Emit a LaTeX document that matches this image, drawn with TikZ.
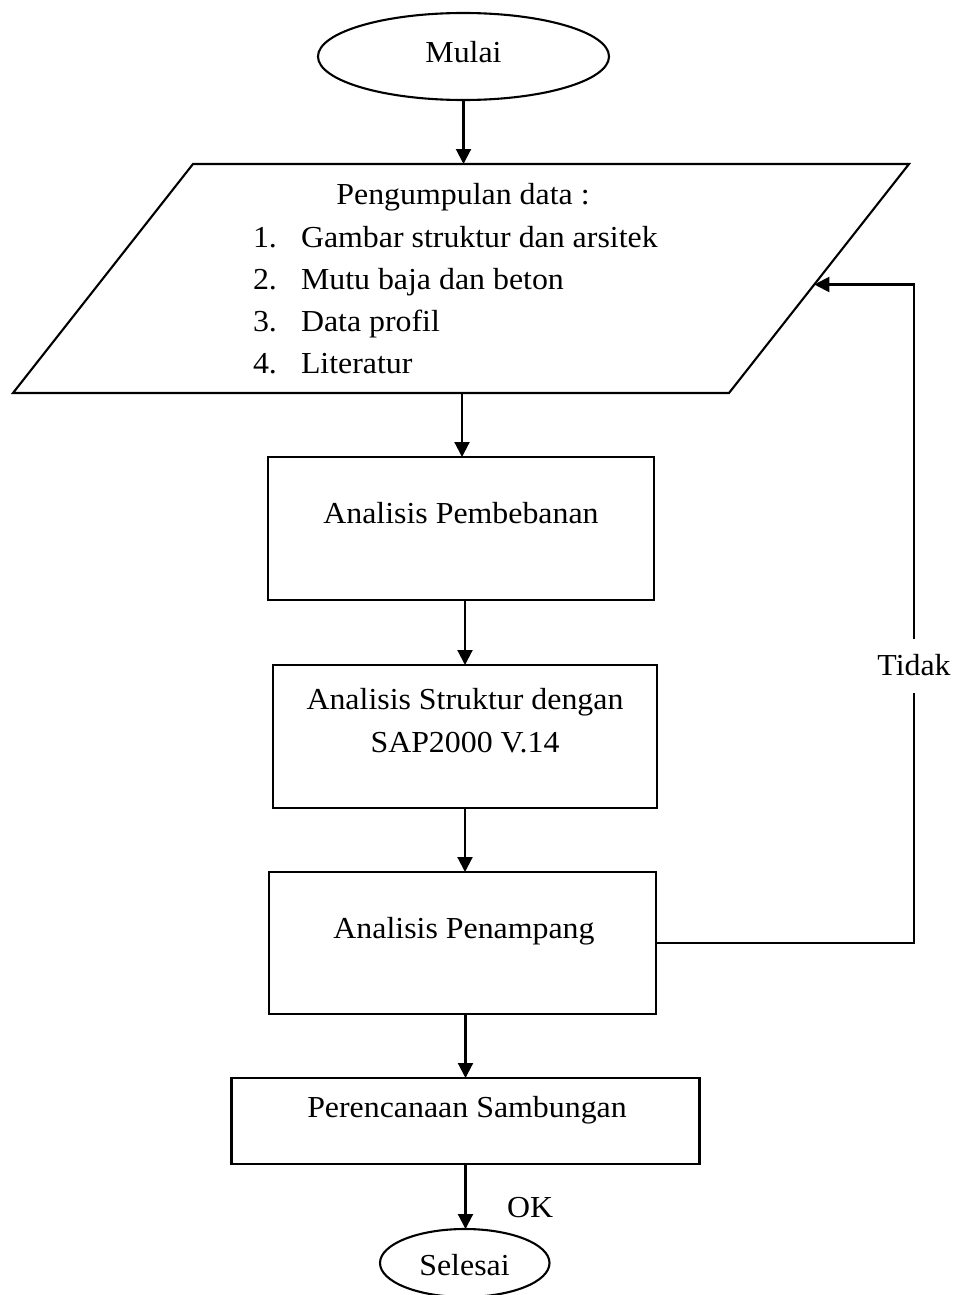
\documentclass[tikz,border=0pt]{standalone}
\usepackage{fontspec}
\setmainfont{Liberation Serif}[FakeStretch=1.045]
\usetikzlibrary{arrows.meta,shapes.geometric,calc}
\begin{document}
\begin{tikzpicture}[x=1pt,y=-1pt,
  every node/.style={font=\fontsize{30.5}{36.6}\selectfont, inner sep=0pt, outer sep=0pt},
  ln/.style={line width=2.1pt},
  arr/.style={line width=2.1pt, -{Triangle[length=15pt,width=15pt]}},
  boxnode/.style={rectangle, draw, line width=2.1pt},
  termnode/.style={ellipse, draw, line width=2.1pt},
  txt/.style={anchor=base},
  itm/.style={anchor=base west}
]
\useasboundingbox (0,0) rectangle (958,1295);

% start
\node[termnode, minimum width=291, minimum height=87] (start) at (463.5,56.5) {};
\node[txt] (startt) at (463.5,62.3) {Mulai};

% data parallelogram
\coordinate (pTL) at (193,164);
\coordinate (pTR) at (909,164);
\coordinate (pBR) at (729,393);
\coordinate (pBL) at (13,393);
\draw[ln] (pTL) -- (pTR) -- (pBR) -- (pBL) -- cycle;
\node[minimum width=716, minimum height=229] (data) at (462,278.5) {};
\coordinate (fb) at ($(pTR)!0.5262!(pBR)$);
\node[txt] (datat) at (463,204) {Pengumpulan data :};
\node[itm] (n1) at (253,247) {1.};
\node[itm] (i1) at (301,247) {Gambar struktur dan arsitek};
\node[itm] (n2) at (253,289) {2.};
\node[itm] (i2) at (301,289) {Mutu baja dan beton};
\node[itm] (n3) at (253,331) {3.};
\node[itm] (i3) at (301,331) {Data profil};
\node[itm] (n4) at (253,373) {4.};
\node[itm] (i4) at (301,373) {Literatur};

% process boxes
\node[boxnode, minimum width=386, minimum height=143] (b1) at (461,528.5) {};
\node[txt] (b1t) at (461,523) {Analisis Pembebanan};

\node[boxnode, minimum width=384, minimum height=143] (b2) at (465,736.5) {};
\node[txt] (b2ta) at (465,709) {Analisis Struktur dengan};
\node[txt] (b2tb) at (465,752.7) {SAP2000 V.14};

\node[boxnode, minimum width=387, minimum height=142] (b3) at (462.5,943) {};
\node[txt] (b3t) at (464,938) {Analisis Penampang};

\node[boxnode, minimum width=468, minimum height=86] (b4) at (465.5,1121) {};
\node[txt] (b4t) at (467,1117.7) {Perencanaan Sambungan};

% end
\node[termnode, minimum width=169.5, minimum height=68] (stop) at (464.75,1263) {};
\node[txt] (stopt) at (464.5,1275.7) {Selesai};

% labels
\node[itm] (ok) at (507,1217) {OK};
\node[minimum height=54] (tidak) at (914,665.5) {Tidak};

% connectors
\draw[arr] (start.south) -- (start.south |- data.north);
\draw[arr] (data.south) -- (data.south |- b1.north);
\draw[arr] (b2.north |- b1.south) -- (b2.north);
\draw[arr] (b2.south) -- (b2.south |- b3.north);
\draw[arr] (b4.north |- b3.south) -- (b4.north);
\draw[arr] (b4.south) -- (b4.south |- stop.north);

\draw[ln] (b3.east) -- (b3.east -| tidak) -- (tidak.south);
\draw[arr] (tidak.north) -- (tidak.north |- fb) -- (fb);
\end{tikzpicture}
\end{document}
